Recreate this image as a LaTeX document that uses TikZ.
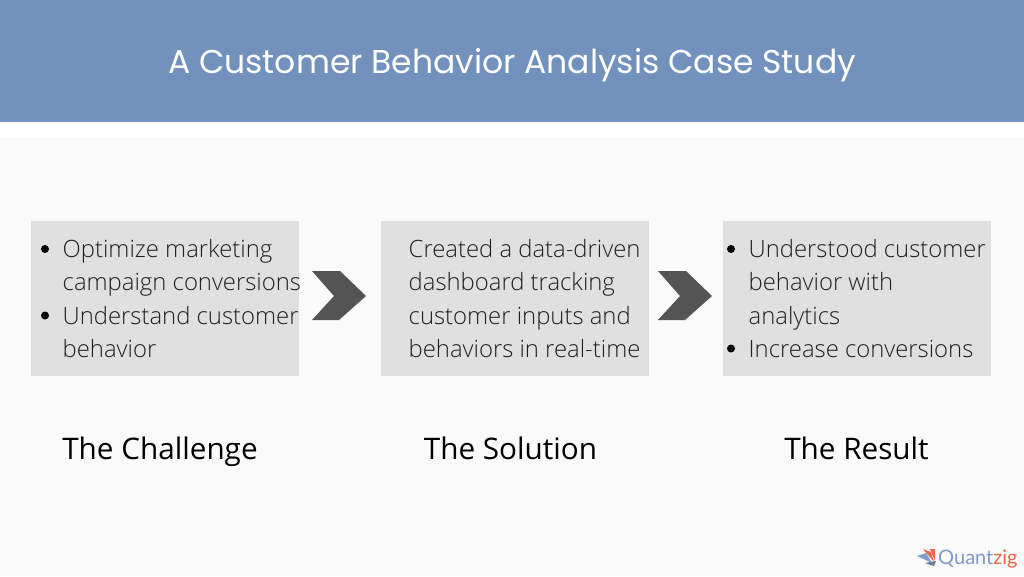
\documentclass[tikz,border=0pt]{standalone}
\usepackage{fontspec}
\setmainfont{Open Sans Light}
\newfontfamily\regfont{Open Sans}
\newfontfamily\titlefont{Poppins}
\newfontfamily\logofont{Lato}
\definecolor{bannerblue}{HTML}{7391BD}
\definecolor{pagebg}{HTML}{FAFAFA}
\definecolor{boxgrey}{HTML}{E0E0E0}
\definecolor{chevgrey}{HTML}{545454}
\definecolor{bodyink}{HTML}{202020}
\definecolor{logoblue}{HTML}{7F9CC8}
\definecolor{logored}{HTML}{F0654A}
\tikzset{
  panel/.style={fill=boxgrey,draw=none},
  chevron/.style={fill=chevgrey,draw=none},
  bodyline/.style={anchor=base west,inner sep=0pt,text=bodyink,font=\fontsize{23.85}{24}\selectfont},
  bullet/.style={circle,fill=black,inner sep=0pt,minimum size=8pt},
  heading/.style={anchor=base,inner sep=0pt,text=black,font=\regfont\fontsize{29.7}{30}\selectfont},
}
\begin{document}
\begin{tikzpicture}[x=1pt,y=-1pt]
\useasboundingbox (0,0) rectangle (1024,576);
\fill[white] (0,0) rectangle (1024,576);
\fill[pagebg] (0,137) rectangle (1024,576);
\fill[bannerblue] (0,0) rectangle (1024,122);
\node[anchor=base,inner sep=0pt,text=white,font=\titlefont\fontsize{33}{33}\selectfont] (title) at (512,73) {A Customer Behavior Analysis Case Study};

\fill[panel] (30.5,221) rectangle (299,375.5);
\fill[panel] (381,221) rectangle (649,375.5);
\fill[panel] (723,221) rectangle (991,375.5);

\fill[chevron] (312,271) -- (340,271) -- (366,296) -- (339,320) -- (312,320) -- (334,296) -- cycle;
\fill[chevron] (658,271) -- (686,271) -- (712,296) -- (685,320) -- (658,320) -- (680,296) -- cycle;

\node[bullet] (b1) at (45,249) {};
\node[bullet] (b2) at (45,315.5) {};
\node[bodyline] (t1) at (62.5,257.5) {Optimize marketing};
\node[bodyline] (t2) at (62.5,290.5) {campaign conversions};
\node[bodyline] (t3) at (62.5,324) {Understand customer};
\node[bodyline] (t4) at (62.5,357) {behavior};

\node[bodyline] (s1) at (408.5,257.5) {Created a data-driven};
\node[bodyline] (s2) at (408.5,290.5) {dashboard tracking};
\node[bodyline] (s3) at (408.5,324) {customer inputs and};
\node[bodyline] (s4) at (408.5,357) {behaviors in real-time};

\node[bullet] (b3) at (731,249) {};
\node[bullet] (b4) at (731,348.5) {};
\node[bodyline] (r1) at (748.5,257.5) {Understood customer};
\node[bodyline] (r2) at (748.5,290.5) {behavior with};
\node[bodyline] (r3) at (748.5,324) {analytics};
\node[bodyline] (r4) at (748.5,357) {Increase conversions};

\node[heading] (h1) at (160,459) {The Challenge};
\node[heading] (h2) at (510.5,459) {The Solution};
\node[heading] (h3) at (856.5,459) {The Result};

\fill[logoblue] (917,556) -- (926,553) -- (932,563) -- cycle;
\fill[logored] (923,549) -- (931,552) -- (934,562) -- cycle;
\fill[logored] (930,549) -- (935,549) -- (935,561) -- cycle;
\fill[logoblue!80!black] (925,563) -- (936,561) -- (934,566) -- cycle;
\node[anchor=base west,inner sep=0pt,text=logoblue,font=\logofont\fontsize{20}{20}\selectfont] (logo) at (938,564) {Quant\textcolor{logored}{zig}};
\end{tikzpicture}
\end{document}
